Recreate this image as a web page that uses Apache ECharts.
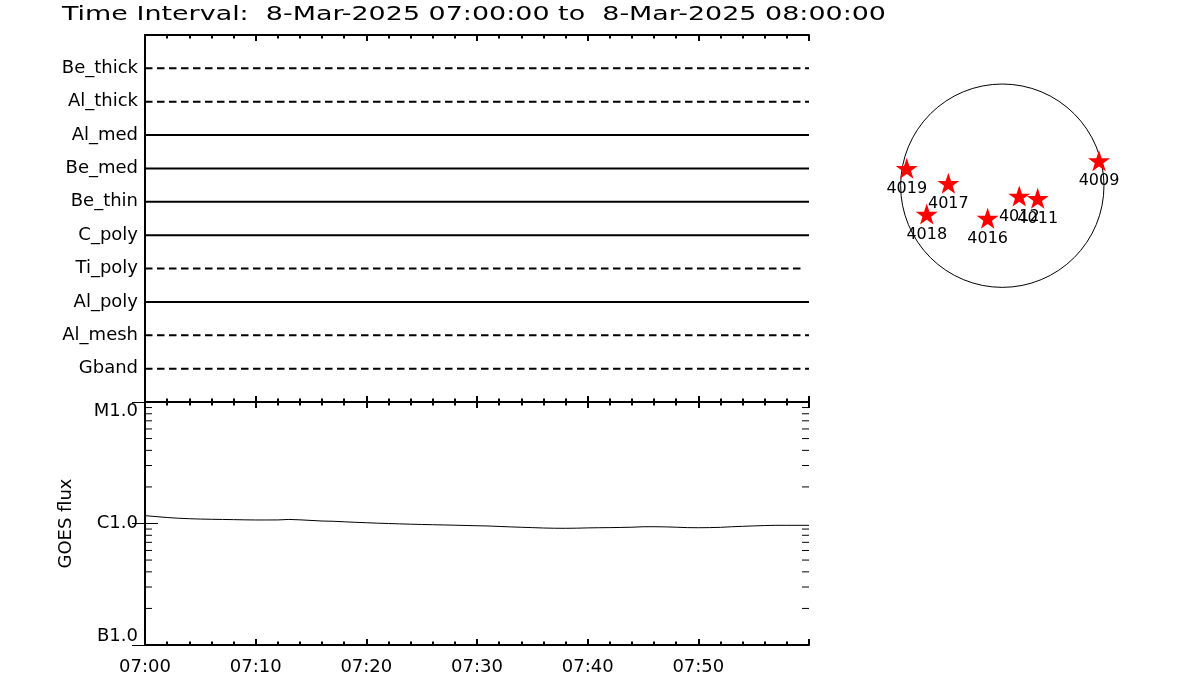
<!DOCTYPE html>
<html>
<head>
<meta charset="utf-8">
<script src="https://cdn.jsdelivr.net/npm/echarts@6/dist/echarts.min.js"></script>
<style>
html,body{margin:0;padding:0;background:#fff;}
#chart{width:1200px;height:700px;}
</style>
</head>
<body>
<div id="chart"></div>
<script>
// ---------------- data ----------------
const titleText = 'Time Interval:  8-Mar-2025 07:00:00 to  8-Mar-2025 08:00:00';

const channelNames = ['Be_thick','Al_thick','Al_med','Be_med','Be_thin','C_poly','Ti_poly','Al_poly','Al_mesh','Gband'];
const channelDashed = [true, true, false, false, false, false, true, false, true, true];
const channelStart = [0, 0, 0, 0, 0, 0, 0, 0, 0, 0];
const channelEnd = [60, 60, 60, 60, 60, 60, 59.5, 60, 60, 60];

const timeTickLabels = ['07:00','07:10','07:20','07:30','07:40','07:50'];

const goesMinutes = [0,1,2,3,4,5,6,7,8,9,10,11,12,13,14,15,16,17,18,19,20,21,22,23,24,25,26,27,28,29,30,
  31,32,33,34,35,36,37,38,39,40,41,42,43,44,45,46,47,48,49,50,51,52,53,54,55,56,57,58,59,60];
const goesFlux = [1.16e-6,1.14e-6,1.12e-6,1.105e-6,1.095e-6,1.088e-6,1.083e-6,1.080e-6,1.076e-6,1.072e-6,
  1.069e-6,1.069e-6,1.070e-6,1.080e-6,1.072e-6,1.060e-6,1.048e-6,1.043e-6,1.033e-6,1.023e-6,
  1.015e-6,1.006e-6,1.000e-6,0.993e-6,0.987e-6,0.982e-6,0.977e-6,0.973e-6,0.968e-6,0.963e-6,
  0.958e-6,0.954e-6,0.946e-6,0.938e-6,0.931e-6,0.925e-6,0.918e-6,0.914e-6,0.913e-6,0.915e-6,
  0.920e-6,0.923e-6,0.925e-6,0.928e-6,0.932e-6,0.940e-6,0.941e-6,0.938e-6,0.932e-6,0.925e-6,
  0.923e-6,0.925e-6,0.930e-6,0.940e-6,0.948e-6,0.955e-6,0.962e-6,0.966e-6,0.966e-6,0.966e-6,0.966e-6];

const goesTickValues = [1e-7, 1e-6, 1e-5];
const goesTickLabels = ['B1.0', 'C1.0', 'M1.0'];
const goesMinorTicks = [2e-7,3e-7,4e-7,5e-7,6e-7,7e-7,8e-7,9e-7,2e-6,3e-6,4e-6,5e-6,6e-6,7e-6,8e-6,9e-6];

const solarRadius = 965; // arcsec
const arNumbers = ['4009','4011','4012','4016','4017','4018','4019'];
const arX = [918, 336, 161, -139, -512, -717, -907];
const arY = [237, -120, -98, -309, 23, -269, 165];

// ---------------- chart ----------------
const FONT = '"DejaVu Sans", sans-serif';
const chart = echarts.init(document.getElementById('chart'), null, {renderer: 'canvas'});

const ctx = document.createElement('canvas').getContext('2d');
ctx.font = '20px "DejaVu Sans"';
const titleScale = 824 / ctx.measureText(titleText).width;

function timeLabel(v) {
  const i = Math.round(v / 10);
  return (Math.abs(v - i * 10) < 1e-6 && i < timeTickLabels.length) ? timeTickLabels[i] : '';
}
function goesLabel(v) {
  const e = Math.round(Math.log10(v));
  for (let i = 0; i < goesTickValues.length; i++) {
    if (Math.round(Math.log10(goesTickValues[i])) === e) return goesTickLabels[i];
  }
  return '';
}
function channelLabel(v) {
  const idx = channelNames.length - Math.round(v);
  return (idx >= 0 && idx < channelNames.length && v >= 1) ? channelNames[idx] : '';
}

const blackLine = {color: '#000', width: 2};
function timeAxis(gridIndex, position, showLabels) {
  return {
    type: 'value', gridIndex: gridIndex, position: position,
    min: 0, max: 60, interval: 10,
    axisLine: {show: true, onZero: false, lineStyle: blackLine},
    axisTick: {show: true, inside: true, length: 6, lineStyle: {color: '#000', width: 2}},
    minorTick: {show: true, splitNumber: 5, length: 3.5, lineStyle: {color: '#000', width: 2}},
    splitLine: {show: false}, minorSplitLine: {show: false},
    axisLabel: showLabels ? {show: true, formatter: timeLabel, color: '#000', fontFamily: FONT, fontSize: 18, margin: 13,
      showMaxLabel: true, showMinLabel: true} : {show: false}
  };
}

const series = [];
channelNames.forEach(function (name, i) {
  const v = channelNames.length - i;
  series.push({
    type: 'line', name: name, xAxisIndex: 0, yAxisIndex: 0,
    data: [[channelStart[i], v], [channelEnd[i], v]],
    showSymbol: false, symbol: 'none', silent: true, animation: false,
    lineStyle: {color: '#000', width: 2, type: channelDashed[i] ? [7.5, 4.5] : 'solid'}
  });
});

series.push({
  type: 'line', name: 'GOES', xAxisIndex: 2, yAxisIndex: 2,
  data: goesMinutes.map(function (m, i) { return [m, goesFlux[i]]; }),
  showSymbol: false, symbol: 'none', silent: true, animation: false,
  lineStyle: {color: '#000', width: 1}
});

// minor log ticks (2..9 per decade) on both sides of the GOES panel
series.push({
  type: 'custom', xAxisIndex: 2, yAxisIndex: 2, silent: true, animation: false,
  data: goesMinorTicks.map(function (v) { return [0, v]; }),
  renderItem: function (params, api) {
    const v = api.value(1);
    const l = api.coord([0, v]);
    const r = api.coord([60, v]);
    return {type: 'group', children: [
      {type: 'line', shape: {x1: l[0], y1: l[1], x2: l[0] + 7, y2: l[1]}, style: {stroke: '#000', lineWidth: 1}},
      {type: 'line', shape: {x1: r[0] - 7, y1: r[1], x2: r[0], y2: r[1]}, style: {stroke: '#000', lineWidth: 1}}
    ]};
  }
});

// solar disk
series.push({
  type: 'custom', xAxisIndex: 4, yAxisIndex: 4, silent: true, animation: false, z: 1,
  data: [[0, 0, solarRadius]],
  renderItem: function (params, api) {
    const c = api.coord([api.value(0), api.value(1)]);
    const r = api.size([api.value(2), 0])[0];
    return {type: 'circle', shape: {cx: c[0], cy: c[1], r: r}, style: {fill: 'none', stroke: '#000', lineWidth: 1}};
  }
});

series.push({
  type: 'scatter', xAxisIndex: 4, yAxisIndex: 4, silent: true, animation: false, z: 5,
  data: arNumbers.map(function (n, i) { return {name: n, value: [arX[i], arY[i]]}; }),
  symbol: 'path://M50,0 L61.8,35.1 L98.1,35.1 L68.8,56.7 L79.4,91 L50,70 L20.6,91 L31.2,56.7 L1.9,35.1 L38.2,35.1 Z',
  symbolSize: [22, 21],
  itemStyle: {color: '#ff0000', opacity: 1},
  label: {show: true, position: 'bottom', distance: 2, formatter: '{b}', color: '#000', fontFamily: FONT, fontSize: 16}
});

const option = {
  backgroundColor: '#fff',
  animation: false,
  graphic: [{
    type: 'text', x: 62, y: 5, scaleX: titleScale,
    style: {text: titleText, fill: '#000', fontFamily: '"DejaVu Sans"', fontSize: 20, verticalAlign: 'top', align: 'left'}
  }],
  grid: [
    {left: 145, top: 35, width: 664, height: 367, containLabel: false},
    {left: 145, top: 402, width: 664, height: 243, containLabel: false},
    {left: 886.4, top: 69.8, width: 231.8, height: 231.8, containLabel: false}
  ],
  xAxis: [
    timeAxis(0, 'bottom', false),
    timeAxis(0, 'top', false),
    timeAxis(1, 'bottom', true),
    timeAxis(1, 'top', false),
    {type: 'value', gridIndex: 2, min: -1100, max: 1100, show: false}
  ],
  yAxis: [
    {
      type: 'value', gridIndex: 0, position: 'left', min: 0, max: 11, interval: 1,
      axisLine: {show: true, lineStyle: blackLine}, axisTick: {show: false},
      splitLine: {show: false},
      axisLabel: {show: true, formatter: channelLabel, color: '#000', fontFamily: FONT, fontSize: 18, margin: 7}
    },
    {
      type: 'value', gridIndex: 0, position: 'right', min: 0, max: 11, interval: 1,
      axisLine: {show: true, lineStyle: blackLine}, axisTick: {show: false},
      splitLine: {show: false}, axisLabel: {show: false}
    },
    {
      type: 'log', logBase: 10, gridIndex: 1, position: 'left', min: 1e-7, max: 1e-5,
      name: 'GOES flux', nameLocation: 'middle', nameGap: 70, nameRotate: 90,
      nameTextStyle: {color: '#000', fontFamily: FONT, fontSize: 18},
      axisLine: {show: true, lineStyle: blackLine},
      axisTick: {show: true, inside: true, length: 13, lineStyle: {color: '#000', width: 1}},
      splitLine: {show: false},
      axisLabel: {show: true, formatter: goesLabel, color: '#000', fontFamily: FONT, fontSize: 18, margin: 7,
        showMinLabel: true, showMaxLabel: true, verticalAlignMinLabel: 'bottom', verticalAlignMaxLabel: 'top'}
    },
    {
      type: 'log', logBase: 10, gridIndex: 1, position: 'right', min: 1e-7, max: 1e-5,
      axisLine: {show: true, lineStyle: blackLine},
      axisTick: {show: true, inside: true, length: 13, lineStyle: {color: '#000', width: 1}},
      splitLine: {show: false}, axisLabel: {show: false}
    },
    {type: 'value', gridIndex: 2, min: -1100, max: 1100, show: false}
  ],
  series: series
};
chart.setOption(option);
</script>
</body>
</html>
